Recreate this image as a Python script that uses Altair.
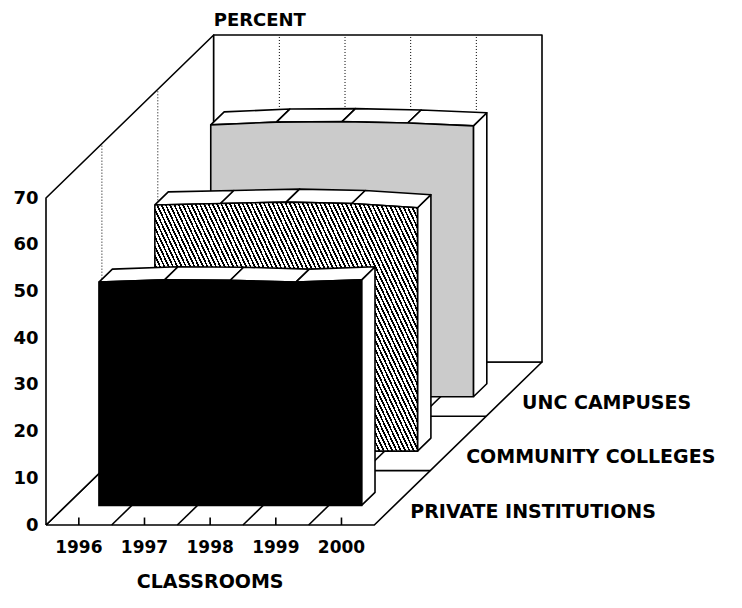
import altair as alt
import pandas as pd
import numpy as np

# ---------------- data ----------------
YEARS = ["1996", "1997", "1998", "1999", "2000"]
SERIES = ["PRIVATE INSTITUTIONS", "COMMUNITY COLLEGES", "UNC CAMPUSES"]
PRIVATE = [47.8, 48.3, 48.2, 47.8, 48.3]
COMMUNITY = [52.7, 53.0, 53.3, 53.0, 52.1]
UNC = [58.2, 58.8, 58.9, 58.6, 58.0]
Y_TICKS = [0, 10, 20, 30, 40, 50, 60, 70]
Y_TITLE = "PERCENT"
X_TITLE = "CLASSROOMS"

VALUES = [PRIVATE, COMMUNITY, UNC]

# ---------------- oblique projection settings ----------------
NB = len(YEARS)
YMAX = Y_TICKS[-1]
DX = 2.554      # depth shift in category units (full depth)
DY = 34.9       # depth shift in value units (full depth)
W, H = 496, 490
PXX = W / (NB + DX)
PXY = H / (YMAX + DY)
RIB_FRONT = 0.12
RIB_DEPTH = 0.08
FONT = "DejaVu Sans"
LW = 1.6


def proj(i, v, t):
    return i + t * DX, v + t * DY


polys = []


def add_poly(group, pid, pts):
    pts = list(pts) + [pts[0]]
    for o, (i, v, t) in enumerate(pts):
        x, y = proj(i, v, t)
        polys.append(dict(group=group, poly=pid, ord=o, x=x, y=y))


# walls and floor
add_poly("floor", "floor", [(0, 0, 0), (NB, 0, 0), (NB, 0, 1), (0, 0, 1)])
add_poly("left", "left", [(0, 0, 0), (0, YMAX, 0), (0, YMAX, 1), (0, 0, 1)])
add_poly("back", "back", [(0, 0, 1), (NB, 0, 1), (NB, YMAX, 1), (0, YMAX, 1)])

# ribbons: side and top faces
front_rows = []
for k, vals in enumerate(VALUES):
    tf = k / 3 + RIB_FRONT
    tb = tf + RIB_DEPTH
    add_poly(f"side{k}", f"side{k}",
             [(NB - 0.5, 0, tf), (NB - 0.5, vals[-1], tf), (NB - 0.5, vals[-1], tb), (NB - 0.5, 0, tb)])
    for j in range(NB - 1):
        add_poly(f"top{k}", f"top{k}_{j}",
                 [(j + 0.5, vals[j], tf), (j + 1.5, vals[j + 1], tf),
                  (j + 1.5, vals[j + 1], tb), (j + 0.5, vals[j], tb)])
    for j, v in enumerate(vals):
        x, y = proj(j + 0.5, v, tf)
        _, y0 = proj(j + 0.5, 0, tf)
        front_rows.append(dict(series=k, x=x, y=y, y2=y0))

poly_df = pd.DataFrame(polys)
front_df = pd.DataFrame(front_rows)

# rules: dotted grid and solid floor lines
rules = []
for j in range(1, NB):
    x, y = proj(j, 0, 1); x2, y2 = proj(j, YMAX, 1)
    rules.append(dict(kind="grid", x=x, y=y, x2=x2, y2=y2))
for t in (1 / 3, 2 / 3):
    x, y = proj(0, 0, t); x2, y2 = proj(0, YMAX, t)
    rules.append(dict(kind="grid", x=x, y=y, x2=x2, y2=y2))
for j in range(1, NB):
    x, y = proj(j, 0, 0); x2, y2 = proj(j, 0, 1)
    rules.append(dict(kind="line", x=x, y=y, x2=x2, y2=y2))
for t in (1 / 3, 2 / 3):
    x, y = proj(0, 0, t); x2, y2 = proj(NB, 0, t)
    rules.append(dict(kind="line", x=x, y=y, x2=x2, y2=y2))
for j in range(NB):
    x, y = proj(j + 0.5, 0, 0); x2, y2 = proj(j + 0.5, 1.6, 0)
    rules.append(dict(kind="line", x=x, y=y, x2=x2, y2=y2))
rule_df = pd.DataFrame(rules)

# ---------------- scales / encodings ----------------
xs = alt.Scale(domain=[0, NB + DX], nice=False, zero=False)
ys = alt.Scale(domain=[0, YMAX + DY], nice=False, zero=False)
yaxis = alt.Axis(values=Y_TICKS, domain=False, ticks=False, grid=False,
                 labelFontSize=18, labelFont=FONT, labelFontWeight="bold",
                 labelColor="black", labelPadding=8, title=None)


def X(f="x"):
    return alt.X(f"{f}:Q", scale=xs, axis=None)


def Y(f="y"):
    return alt.Y(f"{f}:Q", scale=ys, axis=yaxis)


def poly_layer(group, fill):
    d = poly_df[poly_df.group == group]
    return alt.Chart(d).mark_line(fill=fill, stroke="black", strokeWidth=LW,
                                  strokeJoin="round").encode(
        x=X(), y=Y(), detail="poly:N", order="ord:Q")


def stripes(n, frac, on, off):
    out = []
    for p in range(n):
        a, b, c = p / n, (p + frac) / n, (p + 1) / n
        out += [alt.GradientStop(color=on, offset=a), alt.GradientStop(color=on, offset=b),
                alt.GradientStop(color=off, offset=b), alt.GradientStop(color=off, offset=c)]
    return out


# hatch gradient for the community-college face
face_w = (NB - 1) * PXX
face_h = max(COMMUNITY) * PXY
theta = np.deg2rad(65)
r = np.tan(theta) * face_w / face_h
s = (r + 1) / (r * r + 1)
extent = np.sin(theta) * face_w + np.cos(theta) * face_h
n_h = int(round(extent / 3.9))
hatch = alt.LinearGradient(gradient="linear", stops=stripes(n_h, 0.42, "black", "white"),
                           x1=0, y1=1, x2=float(s * r), y2=float(1 - s))

FILLS = ["black", hatch, "#cbcbcb"]

layers = [poly_layer("floor", "white"), poly_layer("left", "white"), poly_layer("back", "white")]
layers.append(alt.Chart(rule_df[rule_df.kind == "grid"]).mark_rule(
    stroke="black", strokeWidth=1, strokeDash=[1, 2]).encode(
    x=X(), y=Y(), x2="x2:Q", y2="y2:Q"))
layers.append(alt.Chart(rule_df[rule_df.kind == "line"]).mark_rule(
    stroke="black", strokeWidth=LW).encode(
    x=X(), y=Y(), x2="x2:Q", y2="y2:Q"))

for k in (2, 1, 0):
    layers.append(poly_layer(f"side{k}", "white"))
    layers.append(poly_layer(f"top{k}", "white"))
    layers.append(alt.Chart(front_df[front_df.series == k]).mark_area(
        fill=FILLS[k], stroke="black", strokeWidth=LW, interpolate="linear").encode(
        x=X(), y=Y(), y2="y2:Q"))

# texts
year_df = pd.DataFrame(dict(label=YEARS, x=[j + 0.5 for j in range(NB)], y=[-4.9] * NB))
layers.append(alt.Chart(year_df).mark_text(font=FONT, fontWeight="bold", fontSize=17,
                                           color="black", baseline="middle").encode(
    x=X(), y=Y(), text="label:N"))

ser_rows = []
for k, name in enumerate(SERIES):
    tc = (k + 0.5) / 3
    x, y = proj(NB, 0, tc)
    ser_rows.append(dict(label=name, x=x, y=y))
ser_df = pd.DataFrame(ser_rows)
layers.append(alt.Chart(ser_df).mark_text(font=FONT, fontWeight="bold", fontSize=19,
                                          color="black", align="left", baseline="middle",
                                          dx=8, dy=14).encode(
    x=X(), y=Y(), text="label:N"))

px, py = proj(0, YMAX, 1)
title_df = pd.DataFrame(dict(label=[Y_TITLE], x=[px], y=[py]))
layers.append(alt.Chart(title_df).mark_text(font=FONT, fontWeight="bold", fontSize=18,
                                            color="black", align="left", baseline="middle",
                                            dy=-14).encode(
    x=X(), y=Y(), text="label:N"))

xt_df = pd.DataFrame(dict(label=[X_TITLE], x=[NB / 2], y=[-12.2]))
layers.append(alt.Chart(xt_df).mark_text(font=FONT, fontWeight="bold", fontSize=19,
                                         color="black", baseline="middle").encode(
    x=X(), y=Y(), text="label:N"))

chart = alt.layer(*layers).properties(
    width=W, height=H,
    autosize=alt.AutoSizeParams(type="none"),
    padding={"left": 38, "top": 27, "right": 190, "bottom": 72},
    background="white",
).configure_view(stroke=None)

chart.save("out.html", embed_options={"renderer": "svg", "actions": False})
